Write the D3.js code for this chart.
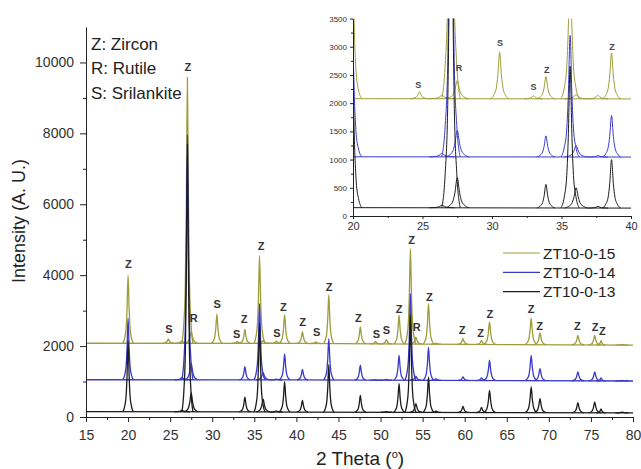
<!DOCTYPE html>
<html>
<head>
<meta charset="utf-8">
<script src="https://cdn.jsdelivr.net/npm/d3@7"></script>
<style>
  body { margin: 0; background: #fff; }
  text { font-family: "Liberation Sans", Arial, sans-serif; }
</style>
</head>
<body>
<div id="chart"></div>
<script>
// series
const seriesNames = ["ZT10-0-15", "ZT10-0-14", "ZT10-0-13"];
const seriesColors = ["#9d9d3a", "#3a3ac8", "#1c1c1c"];

// background level of each pattern
const baseTheta = [15, 40, 80];
const baseOlive = [2080, 2075, 2025];
const baseBlue = [1050, 1045, 1015];
const baseBlack = [150, 140, 115];

// reflections: 2 theta, relative width, peak top of each pattern
const peakTheta = [20.0, 24.78, 26.4, 27.05, 27.5, 30.55, 32.98, 33.88, 35.62, 36.05, 37.62, 38.6, 40.72, 42.3, 43.85, 47.6, 49.4, 50.7, 52.2, 53.55, 54.2, 55.7, 56.6, 59.8, 62.0, 62.95, 67.9, 68.95, 73.45, 75.45, 76.2, 78.7];
const peakWidth = [1.05, 1.1, 1.5, 1.1, 1.4, 1.1, 1.1, 1.1, 1.1, 1.4, 1.2, 1.1, 1.1, 1.1, 1.05, 1.1, 1.1, 1.1, 1.1, 1.1, 1.2, 1.1, 1.0, 1.1, 1.1, 1.2, 1.2, 1.2, 1.2, 1.2, 0.9, 1.3];
const peakOlive = [4000, 2200, 2140, 9580, 2400, 2900, 2130, 2470, 4550, 2150, 2140, 2890, 2400, 2120, 3450, 2540, 2130, 2180, 2870, 4750, 2250, 3200, 2080, 2210, 2150, 2680, 2790, 2370, 2300, 2300, 2150, 2050];
const peakBlue = [2780, 1050, 1110, 7950, 1520, 1050, 1050, 1420, 3200, 1250, 1070, 1780, 1340, 1050, 2210, 1460, 1050, 1060, 1740, 3480, 1150, 1960, 1080, 1130, 1100, 1600, 1740, 1365, 1270, 1270, 1100, 1030];
const peakBlack = [2150, 150, 190, 7700, 680, 150, 150, 560, 2650, 500, 170, 1000, 470, 140, 1480, 610, 140, 150, 940, 2870, 380, 1130, 170, 300, 270, 750, 850, 520, 405, 425, 230, 140];

// phase labels in the main plot
const labelText = ["Z", "S", "Z", "R", "S", "S", "Z", "Z", "S", "Z", "Z", "S", "Z", "Z", "S", "S", "Z", "Z", "R", "Z", "Z", "Z", "Z", "Z", "Z", "Z", "Z", "Z"];
const labelTheta = [20.03, 24.86, 27.1, 27.8, 30.6, 32.9, 33.8, 35.8, 37.7, 38.45, 40.75, 42.4, 43.9, 47.36, 49.5, 50.7, 52.2, 53.7, 54.3, 55.8, 59.7, 61.9, 63.0, 67.9, 68.9, 73.4, 75.5, 76.35];
const labelLevel = [4305, 2473, 9867, 2783, 3177, 2332, 2754, 4821, 2377, 3093, 2687, 2410, 3657, 2783, 2332, 2453, 3045, 4990, 2529, 3392, 2453, 2377, 2904, 3045, 2574, 2574, 2546, 2425];

// phase labels in the inset
const insetLabelText = ["S", "R", "S", "S", "Z", "Z"];
const insetLabelTheta = [24.69, 27.62, 30.58, 32.98, 33.94, 38.63];
const insetLabelLevel = [2321, 2617, 3060, 2281, 2587, 2990];

const phaseNotes = ["Z: Zircon", "R: Rutile", "S: Srilankite"];

const mainXTicks = d3.range(15, 81, 5);
const mainYTicks = d3.range(0, 10001, 2000);
const insetXTicks = d3.range(20, 41, 5);
const insetYTicks = d3.range(0, 3501, 500);

const bases = [baseOlive, baseBlue, baseBlack];
const tops = [peakOlive, peakBlue, peakBlack];

// peak outline (offsets in degrees, share of height)
const shapeDx = [-0.6, -0.38, -0.22, -0.12, 0, 0.12, 0.22, 0.38, 0.6];
const shapeFrac = [0, 0.08, 0.23, 0.5, 1, 0.5, 0.23, 0.08, 0];

const width = 641, height = 469;

const svg = d3.select("#chart")
  .append("svg")
    .attr("width", width)
    .attr("height", height);

function drawPatterns(g, x, y, lineWidth) {
  bases.forEach((base, s) => {
    const baseAt = d3.scaleLinear().domain(baseTheta).range(base);
    const line = d3.line().x(d => x(d[0])).y(d => y(d[1]));
    g.append("path")
      .attr("d", line(baseTheta.map((t, i) => [t, base[i]])))
      .attr("fill", "none")
      .attr("stroke", seriesColors[s])
      .attr("stroke-width", lineWidth);

    const peakLine = d3.line().x(d => x(d[0])).y(d => y(d[1])).curve(d3.curveMonotoneX);
    peakTheta.forEach((p, i) => {
      const b = baseAt(p);
      const top = tops[s][i];
      if (top - b < 10) return;
      const pts = shapeDx.map((dx, k) => [p + dx * peakWidth[i], b + (top - b) * shapeFrac[k]]);
      g.append("path")
        .attr("d", peakLine(pts))
        .attr("fill", "none")
        .attr("stroke", seriesColors[s])
        .attr("stroke-width", lineWidth)
        .attr("stroke-linejoin", "round");
    });
  });
}

function styleAxis(g, size) {
  g.selectAll("path, line").attr("stroke", "#222");
  g.selectAll("text").attr("fill", "#333").style("font-size", size + "px");
}

// ---------- main plot ----------
const x = d3.scaleLinear().domain([15, 80]).range([86, 633]);
const y = d3.scaleLinear().domain([0, 11000]).range([417, 27]);

const main = svg.append("g");
drawPatterns(main, x, y, 1.3);

main.append("g")
  .attr("transform", "translate(0,417)")
  .call(d3.axisBottom(x).tickValues(d3.range(17.5, 80, 5)).tickSize(3).tickFormat("").tickSizeOuter(0))
  .call(g => g.select(".domain").remove())
  .call(g => styleAxis(g, 14));
main.append("g")
  .attr("transform", "translate(0,417)")
  .call(d3.axisBottom(x).tickValues(mainXTicks).tickSize(5).tickPadding(8).tickSizeOuter(0).tickFormat(d3.format("d")))
  .call(g => styleAxis(g, 14));

main.append("g")
  .attr("transform", "translate(86,0)")
  .call(d3.axisLeft(y).tickValues(d3.range(1000, 11000, 2000)).tickSize(3).tickFormat("").tickSizeOuter(0))
  .call(g => g.select(".domain").remove())
  .call(g => styleAxis(g, 14));
main.append("g")
  .attr("transform", "translate(86,0)")
  .call(d3.axisLeft(y).tickValues(mainYTicks).tickSize(6).tickPadding(6).tickSizeOuter(0).tickFormat(d3.format("d")))
  .call(g => styleAxis(g, 14));

main.selectAll(".peak-label")
  .data(labelText)
  .join("text")
    .attr("class", "peak-label")
    .attr("x", (d, i) => x(labelTheta[i]))
    .attr("y", (d, i) => y(labelLevel[i]))
    .attr("text-anchor", "middle")
    .attr("dominant-baseline", "central")
    .style("font-size", "11px")
    .style("font-weight", "bold")
    .attr("fill", "#333")
    .text(d => d);

main.selectAll(".note")
  .data(phaseNotes)
  .join("text")
    .attr("class", "note")
    .attr("x", 91)
    .attr("y", (d, i) => 44 + i * 24.5)
    .attr("dominant-baseline", "central")
    .style("font-size", "17px")
    .attr("fill", "#222")
    .text(d => d);

// legend
const legend = main.append("g");
seriesNames.forEach((name, i) => {
  const ly = 253 + i * 19.3;
  legend.append("line")
    .attr("x1", 503).attr("x2", 540)
    .attr("y1", ly).attr("y2", ly)
    .attr("stroke", seriesColors[i])
    .attr("stroke-width", 1.2);
  legend.append("text")
    .attr("x", 543)
    .attr("y", ly)
    .attr("dominant-baseline", "central")
    .style("font-size", "15.5px")
    .attr("fill", "#222")
    .text(name);
});

// axis titles
svg.append("text")
  .attr("transform", "translate(25,221)rotate(-90)")
  .attr("text-anchor", "middle")
  .style("font-size", "18px")
  .attr("fill", "#222")
  .text("Intensity (A. U.)");

const xTitle = svg.append("text")
  .attr("x", 360)
  .attr("y", 465)
  .attr("text-anchor", "middle")
  .style("font-size", "19px")
  .attr("fill", "#222");
xTitle.append("tspan").text("2 Theta (");
xTitle.append("tspan").attr("dy", -7).style("font-size", "11px").text("o");
xTitle.append("tspan").attr("dy", 7).text(")");

// ---------- inset ----------
const xi = d3.scaleLinear().domain([20, 40]).range([353, 631]);
const yi = d3.scaleLinear().domain([0, 3500]).range([216, 18.5]);

const inset = svg.append("g");
svg.append("defs").append("clipPath")
  .attr("id", "inset-clip")
  .append("rect")
    .attr("x", 353).attr("y", 18.5)
    .attr("width", 278).attr("height", 197.5);

const insetData = inset.append("g").attr("clip-path", "url(#inset-clip)");
drawPatterns(insetData, xi, yi, 1);

inset.append("g")
  .attr("transform", "translate(0,216)")
  .call(d3.axisBottom(xi).tickValues(d3.range(22.5, 40, 5)).tickSize(2).tickFormat("").tickSizeOuter(0))
  .call(g => g.select(".domain").remove())
  .call(g => styleAxis(g, 11));
inset.append("g")
  .attr("transform", "translate(0,216)")
  .call(d3.axisBottom(xi).tickValues(insetXTicks).tickSize(3).tickPadding(3).tickSizeOuter(0))
  .call(g => styleAxis(g, 11));

inset.append("g")
  .attr("transform", "translate(353,0)")
  .call(d3.axisLeft(yi).tickValues(d3.range(250, 3500, 500)).tickSize(2).tickFormat("").tickSizeOuter(0))
  .call(g => g.select(".domain").remove())
  .call(g => styleAxis(g, 8));
inset.append("g")
  .attr("transform", "translate(353,0)")
  .call(d3.axisLeft(yi).tickValues(insetYTicks).tickSize(3).tickPadding(3).tickSizeOuter(0).tickFormat(d3.format("d")))
  .call(g => styleAxis(g, 8));

inset.selectAll(".inset-label")
  .data(insetLabelText)
  .join("text")
    .attr("class", "inset-label")
    .attr("x", (d, i) => xi(insetLabelTheta[i]))
    .attr("y", (d, i) => yi(insetLabelLevel[i]))
    .attr("text-anchor", "middle")
    .attr("dominant-baseline", "central")
    .style("font-size", "9px")
    .style("font-weight", "bold")
    .attr("fill", "#444")
    .text(d => d);
</script>
</body>
</html>
